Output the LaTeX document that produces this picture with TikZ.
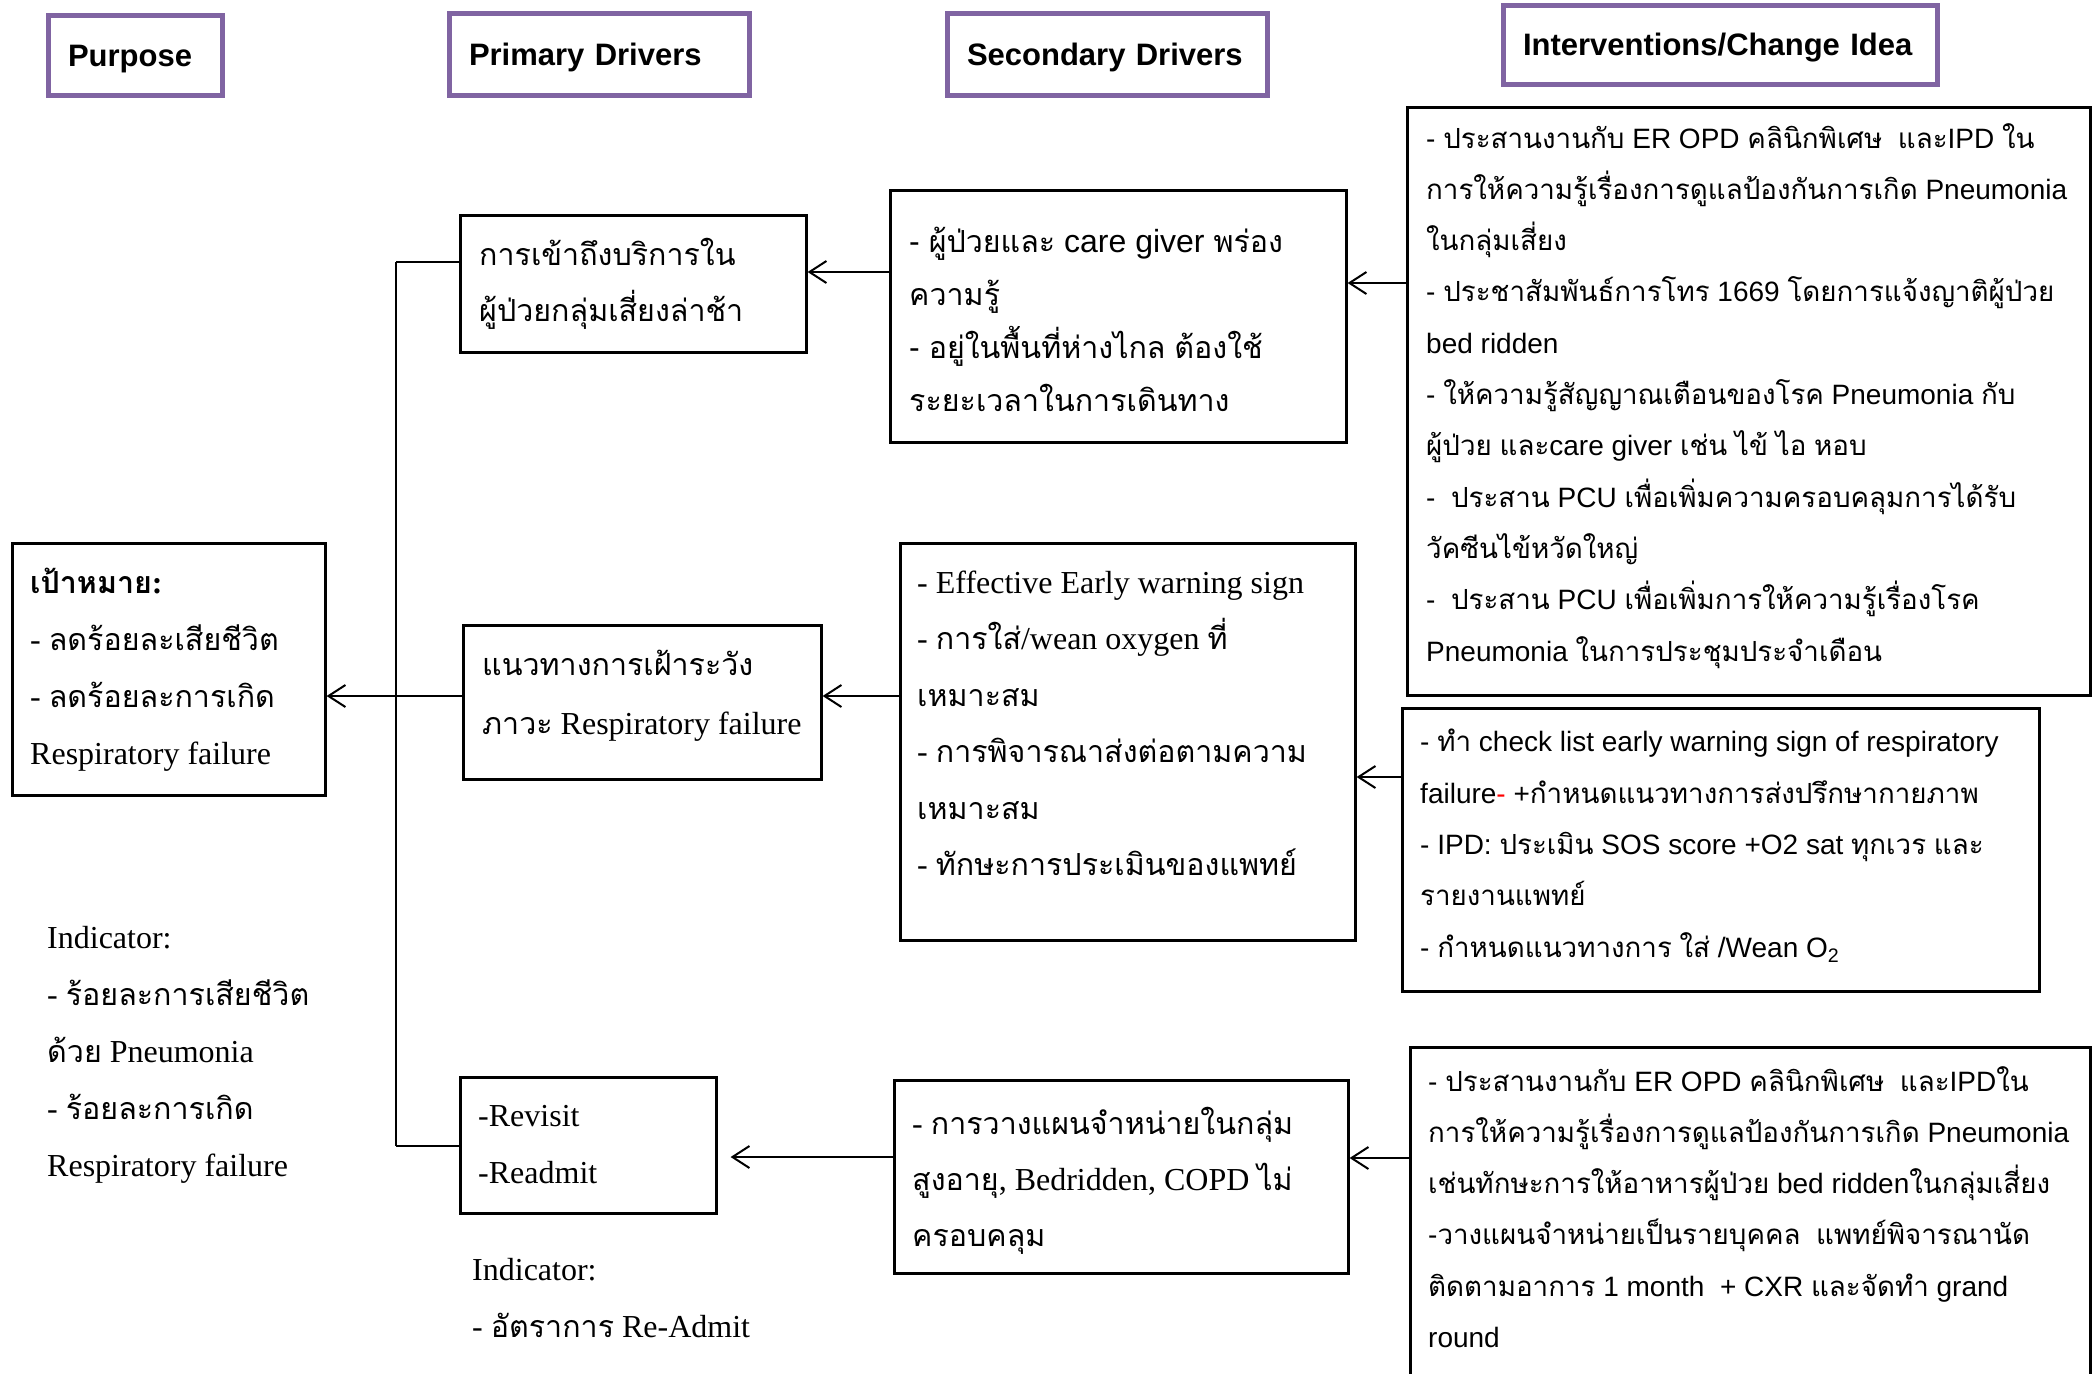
\documentclass[tikz,border=0pt]{standalone}
\usepackage{fontspec}
\usetikzlibrary{arrows.meta}
\setmainfont{Liberation Serif}
\setsansfont{Liberation Sans}
\newfontfamily\thaiA[Script=Thai,Scale=0.95]{Loma}
\newfontfamily\thaiB[Script=Thai,Scale=0.99]{Loma}
\let\thaicur\thaiA
\XeTeXinterchartokenstate=1
\count255="0E00
\loop\ifnum\count255<"0E80
  \XeTeXcharclass\count255=7
  \advance\count255 by 1
\repeat
\XeTeXinterchartoks 0 7 = {\begingroup\thaicur}
\XeTeXinterchartoks 4095 7 = {\begingroup\thaicur}
\XeTeXinterchartoks 7 0 = {\endgroup}
\XeTeXinterchartoks 7 4095 = {\endgroup}
\definecolor{hdr}{HTML}{8064A2}
\tikzset{
  hdrbox/.style={draw=hdr, line width=5pt, fill=white, align=left, inner xsep=20pt, inner ysep=0pt,
    text depth=0pt, font=\sffamily\bfseries\fontsize{31}{36}\selectfont},
  box/.style={draw=black, line width=2.6pt, inner sep=0pt, anchor=north west},
  sertext/.style={anchor=base west, align=left, inner sep=0pt,
    font=\rmfamily\fontsize{32}{57}\selectfont\let\thaicur\thaiA},
  santext/.style={anchor=base west, align=left, inner sep=0pt,
    font=\sffamily\fontsize{28}{51.3}\selectfont\let\thaicur\thaiB},
  conn/.style={line width=2pt},
  arr/.style={line width=2pt, -{Straight Barb[length=17pt,width=22pt]}},
}
\begin{document}
\begin{tikzpicture}[x=1pt,y=-1pt]
\useasboundingbox (0,0) rectangle (2100,1373);
\fill[white] (0,0) rectangle (2100,1373);

% headers
\node[hdrbox, text width=134pt, minimum height=80pt] (hpurpose) at (135,55.5) {Purpose};
\node[hdrbox, text width=260pt, minimum height=82pt] (hprimary) at (599,54) {Primary Drivers};
\node[hdrbox, text width=280pt, minimum height=82pt] (hsecondary) at (1107,54) {Secondary Drivers};
\node[hdrbox, text width=394pt, minimum height=79pt] (hinterv) at (1720,44.5) {Interventions/Change Idea};

% boxes
\node[box, minimum width=313pt, minimum height=252pt] (purpose) at (11,542) {};
\node[box, minimum width=346pt, minimum height=137pt] (p1) at (459,214) {};
\node[box, minimum width=358pt, minimum height=154pt] (p2) at (462,624) {};
\node[box, minimum width=256pt, minimum height=136pt] (p3) at (459,1076) {};
\node[box, minimum width=456pt, minimum height=252pt] (s1) at (889,189) {};
\node[box, minimum width=455pt, minimum height=397pt] (s2) at (899,542) {};
\node[box, minimum width=454pt, minimum height=193pt] (s3) at (893,1079) {};
\node[box, minimum width=683pt, minimum height=588pt] (i1) at (1406,106) {};
\node[box, minimum width=637pt, minimum height=283pt] (i2) at (1401,707) {};
\node[box, minimum width=680pt, minimum height=340pt] (i3) at (1409,1046) {};

% texts (anchored at the baseline of their last line)
\node[sertext] (tpurpose) at (30,764) {\textbf{เป้าหมาย:}\\- ลดร้อยละเสียชีวิต\\- ลดร้อยละการเกิด\\Respiratory failure};
\node[sertext, font=\rmfamily\fontsize{32}{56}\selectfont] (tp1) at (479,321) {การเข้าถึงบริการใน\\ผู้ป่วยกลุ่มเสี่ยงล่าช้า};
\node[sertext, font=\rmfamily\fontsize{32}{59}\selectfont] (tp2) at (482,734) {แนวทางการเฝ้าระวัง\\ภาวะ Respiratory failure};
\node[sertext] (tp3) at (478,1183) {-Revisit\\-Readmit};
\node[sertext] (tind1) at (47,1176) {Indicator:\\- ร้อยละการเสียชีวิต\\ด้วย Pneumonia\\- ร้อยละการเกิด\\Respiratory failure};
\node[sertext] (tind2) at (472,1337) {Indicator:\\- อัตราการ Re-Admit};
\node[santext, font=\sffamily\fontsize{32}{53}\selectfont] (ts1) at (909,411) {- ผู้ป่วยและ care giver พร่อง\\ความรู้\\- อยู่ในพื้นที่ห่างไกล ต้องใช้\\ระยะเวลาในการเดินทาง};
\node[sertext, font=\rmfamily\fontsize{32}{56.5}\selectfont] (ts2) at (917,875.5) {- Effective Early warning sign\\- การใส่/wean oxygen ที่\\เหมาะสม\\- การพิจารณาส่งต่อตามความ\\เหมาะสม\\- ทักษะการประเมินของแพทย์};
\node[sertext, font=\rmfamily\fontsize{32}{56}\selectfont] (ts3) at (912,1246) {- การวางแผนจำหน่ายในกลุ่ม\\สูงอายุ, Bedridden, COPD ไม่\\ครอบคลุม};
\node[santext] (ti1) at (1426,661) {- ประสานงานกับ ER OPD คลินิกพิเศษ\ \ และIPD ใน\\การให้ความรู้เรื่องการดูแลป้องกันการเกิด Pneumonia\\ในกลุ่มเสี่ยง\\- ประชาสัมพันธ์การโทร 1669 โดยการแจ้งญาติผู้ป่วย\\bed ridden\\- ให้ความรู้สัญญาณเตือนของโรค Pneumonia กับ\\ผู้ป่วย และcare giver เช่น ไข้ ไอ หอบ\\-\ \ ประสาน PCU เพื่อเพิ่มความครอบคลุมการได้รับ\\วัคซีนไข้หวัดใหญ่\\-\ \ ประสาน PCU เพื่อเพิ่มการให้ความรู้เรื่องโรค\\Pneumonia ในการประชุมประจำเดือน};
\node[santext] (ti2) at (1420,957) {- ทำ check list early warning sign of respiratory\\failure\textcolor{red}{-} +กำหนดแนวทางการส่งปรึกษากายภาพ\\- IPD: ประเมิน SOS score +O2 sat ทุกเวร และ\\รายงานแพทย์\\- กำหนดแนวทางการ ใส่ /Wean O\textsubscript{2}};
\node[santext] (ti3) at (1428,1347.5) {- ประสานงานกับ ER OPD คลินิกพิเศษ\ \ และIPDใน\\การให้ความรู้เรื่องการดูแลป้องกันการเกิด Pneumonia\\เช่นทักษะการให้อาหารผู้ป่วย bed riddenในกลุ่มเสี่ยง\\-วางแผนจำหน่ายเป็นรายบุคคล\ \ แพทย์พิจารณานัด\\ติดตามอาการ 1 month\ \ + CXR และจัดทำ grand\\round};

% connectors
\coordinate (jt) at (396,262);
\coordinate (jm) at (396,696);
\coordinate (jb) at (396,1146);
\coordinate (y1) at (0,272);
\coordinate (y2) at (0,696);
\coordinate (y3) at (0,1157);
\coordinate (y4) at (0,283);
\coordinate (y5) at (0,777);
\coordinate (y6) at (0,1158);
\draw[conn] (jt) -- (jb);
\draw[conn] (jt) -- (p1.west |- jt);
\draw[conn] (jm) -- (p2.west |- jm);
\draw[conn] (jb) -- (p3.west |- jb);
\draw[arr] (jm) -- (purpose.east |- jm);
\draw[arr] (s1.west |- y1) -- (p1.east |- y1);
\draw[arr] (s2.west |- y2) -- (p2.east |- y2);
\draw[arr] (s3.west |- y3) -- ([xshift=13pt]p3.east |- y3);
\draw[arr] (i1.west |- y4) -- (s1.east |- y4);
\draw[arr] (i2.west |- y5) -- (s2.east |- y5);
\draw[arr] (i3.west |- y6) -- (s3.east |- y6);
\end{tikzpicture}
\end{document}
